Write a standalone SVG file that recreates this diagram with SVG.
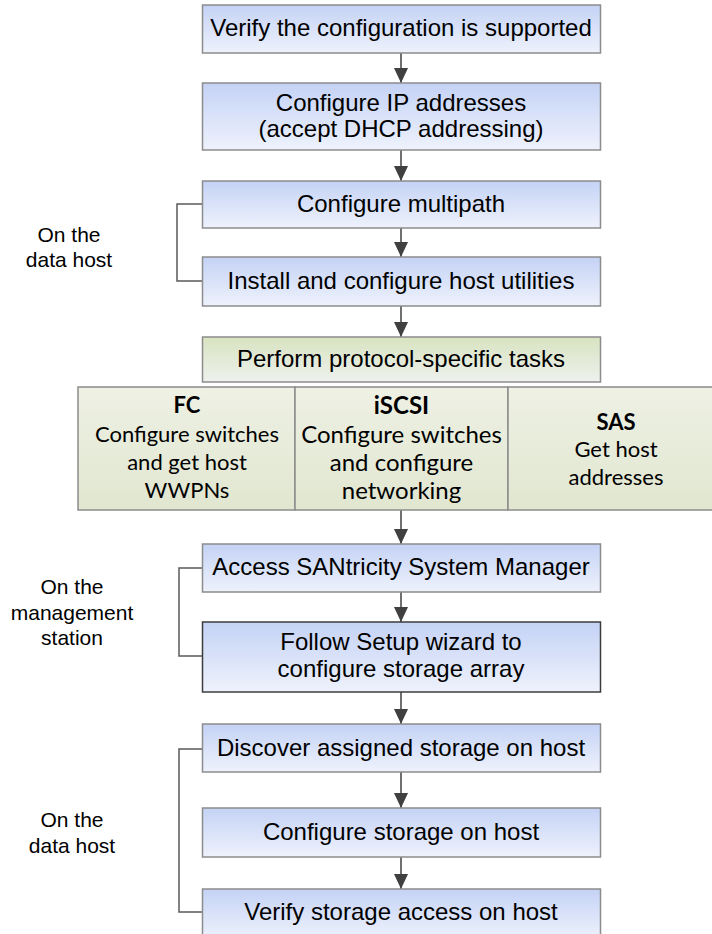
<svg xmlns="http://www.w3.org/2000/svg" width="712" height="934" viewBox="0 0 712 934">
  <defs>
    <linearGradient id="gBlue" x1="0" y1="0" x2="0" y2="1">
      <stop offset="0" stop-color="#c4d2f5"/>
      <stop offset="1" stop-color="#eef2fc"/>
    </linearGradient>
    <linearGradient id="gGreen" x1="0" y1="0" x2="0" y2="1">
      <stop offset="0" stop-color="#d8e3c0"/>
      <stop offset="1" stop-color="#eef1ee"/>
    </linearGradient>
    <linearGradient id="gCell" x1="0" y1="0" x2="0" y2="1">
      <stop offset="0" stop-color="#eef1e4"/>
      <stop offset="1" stop-color="#e1e6d0"/>
    </linearGradient>
    <marker id="ah" markerWidth="15" markerHeight="14" refX="15" refY="7" orient="auto" markerUnits="userSpaceOnUse">
      <path d="M0,0 L15,7 L0,14 z" fill="#404040"/>
    </marker>
  </defs>
  <style>
    .box { fill: url(#gBlue); stroke: #8c8c8c; stroke-width: 1.5; }
    .boxd { fill: url(#gBlue); stroke: #3c3c3c; stroke-width: 1.5; }
    .green { fill: url(#gGreen); stroke: #8c8c8c; stroke-width: 1.5; }
    .cell { fill: url(#gCell); stroke: #8c8c8c; stroke-width: 1.5; }
    .t { font-family: "Liberation Sans", Arial, sans-serif; font-size: 24px; fill: #000; text-anchor: middle; }
    .lbl { font-family: "Liberation Sans", Arial, sans-serif; font-size: 21px; fill: #000; text-anchor: middle; }
    .c { font-family: Lato, "Open Sans", sans-serif; font-size: 22px; fill: #000; text-anchor: middle; }
    .ci { font-family: Lato, "Open Sans", sans-serif; font-size: 24px; fill: #000; text-anchor: middle; }
    .b { font-weight: bold; }
    .arr { stroke: #404040; stroke-width: 1.5; fill: none; marker-end: url(#ah); }
    .br { stroke: #5a5a5a; stroke-width: 1.5; fill: none; }
  </style>

  <g id="connectors">
    <line class="arr" x1="401" y1="53" x2="401" y2="83"/>
    <line class="arr" x1="401" y1="150" x2="401" y2="181"/>
    <line class="arr" x1="401" y1="228" x2="401" y2="257"/>
    <line class="arr" x1="401" y1="306" x2="401" y2="337"/>
    <line class="arr" x1="401" y1="510" x2="401" y2="544"/>
    <line class="arr" x1="401" y1="592" x2="401" y2="622"/>
    <line class="arr" x1="401" y1="692" x2="401" y2="724"/>
    <line class="arr" x1="401" y1="772" x2="401" y2="808"/>
    <line class="arr" x1="401" y1="857" x2="401" y2="889"/>
    <path class="br" d="M203,204 H177 V281 H203"/>
    <path class="br" d="M203,568 H179 V656 H203"/>
    <path class="br" d="M203,749 H179 V912 H203"/>
  </g>

  <g id="labels">
    <text class="lbl" x="69" y="242">On the</text>
    <text class="lbl" x="69" y="267">data host</text>
    <text class="lbl" x="72" y="594">On the</text>
    <text class="lbl" x="72" y="620">management</text>
    <text class="lbl" x="72" y="645">station</text>
    <text class="lbl" x="72" y="827">On the</text>
    <text class="lbl" x="72" y="853">data host</text>
  </g>

  <g id="verify-config">
    <rect class="box" x="202.5" y="5" width="398" height="48"/>
    <text class="t" x="401" y="36">Verify the configuration is supported</text>
  </g>
  <g id="configure-ip">
    <rect class="box" x="202.5" y="83" width="398" height="67"/>
    <text class="t" x="401" y="111">Configure IP addresses</text>
    <text class="t" x="401" y="137">(accept DHCP addressing)</text>
  </g>
  <g id="configure-multipath">
    <rect class="box" x="202.5" y="181" width="398" height="47"/>
    <text class="t" x="401" y="212">Configure multipath</text>
  </g>
  <g id="install-utilities">
    <rect class="box" x="202.5" y="257" width="398" height="49"/>
    <text class="t" x="401" y="289">Install and configure host utilities</text>
  </g>
  <g id="protocol-tasks">
    <rect class="green" x="202.5" y="337" width="398" height="45"/>
    <text class="t" x="401" y="367">Perform protocol-specific tasks</text>
  </g>
  <g id="fc">
    <rect class="cell" x="78" y="387" width="217" height="123"/>
    <text class="c b" x="187" y="413">FC</text>
    <text class="c" x="187" y="442">Configure switches</text>
    <text class="c" x="187" y="470">and get host</text>
    <text class="c" x="187" y="498">WWPNs</text>
  </g>
  <g id="iscsi">
    <rect class="cell" x="295" y="387" width="213" height="123"/>
    <text class="ci b" x="401.5" y="414">iSCSI</text>
    <text class="ci" x="401.5" y="443">Configure switches</text>
    <text class="ci" x="401.5" y="471">and configure</text>
    <text class="ci" x="401.5" y="499">networking</text>
  </g>
  <g id="sas">
    <rect class="cell" x="508" y="387" width="216" height="123"/>
    <text class="c b" x="616" y="430">SAS</text>
    <text class="c" x="616" y="457">Get host</text>
    <text class="c" x="616" y="485">addresses</text>
  </g>
  <g id="access-sm">
    <rect class="box" x="202.5" y="544" width="398" height="48"/>
    <text class="t" x="401" y="575">Access SANtricity System Manager</text>
  </g>
  <g id="setup-wizard">
    <rect class="boxd" x="202.5" y="622" width="398" height="70"/>
    <text class="t" x="401" y="650">Follow Setup wizard to</text>
    <text class="t" x="401" y="677">configure storage array</text>
  </g>
  <g id="discover-storage">
    <rect class="box" x="202.5" y="724" width="398" height="48"/>
    <text class="t" x="401" y="756">Discover assigned storage on host</text>
  </g>
  <g id="configure-storage">
    <rect class="box" x="202.5" y="808" width="398" height="49"/>
    <text class="t" x="401" y="840">Configure storage on host</text>
  </g>
  <g id="verify-access">
    <rect class="box" x="202.5" y="889" width="398" height="50"/>
    <text class="t" x="401" y="920">Verify storage access on host</text>
  </g>
</svg>
